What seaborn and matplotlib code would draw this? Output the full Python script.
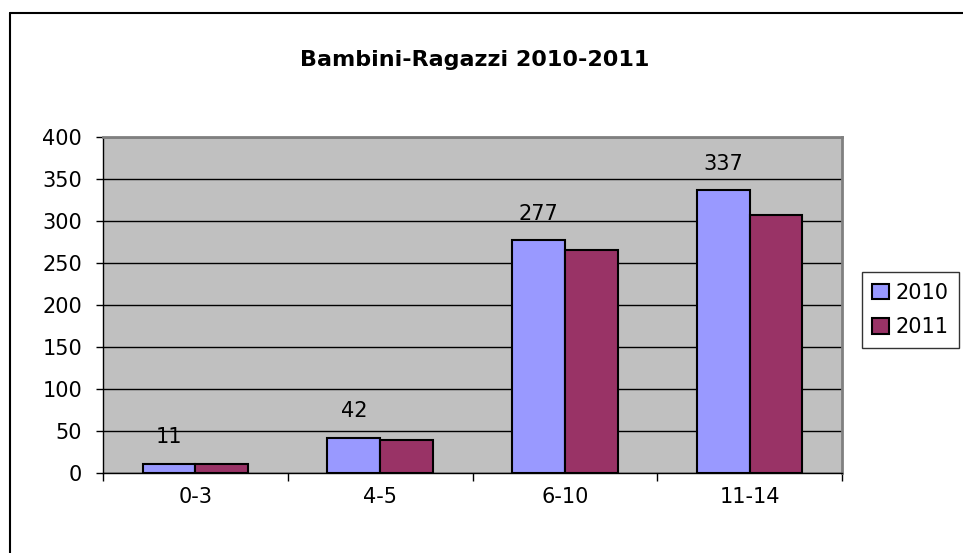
import pandas as pd
import numpy as np
from matplotlib import pyplot as plt
from matplotlib.lines import Line2D
import seaborn as sns

fasce = ['0-3', '4-5', '6-10', '11-14']
anni = ['2010', '2011']
val_2010 = [11, 42, 277, 337]
val_2011 = [11, 39, 265, 307]
colori = ['#9999FF', '#993366']

df = pd.DataFrame({
    'fascia': fasce * 2,
    'anno': [anni[0]] * 4 + [anni[1]] * 4,
    'n': val_2010 + val_2011,
})

sns.set_style("white", {'text.color': 'black', 'xtick.color': 'black', 'ytick.color': 'black'})
plt.rcParams['font.family'] = ['DejaVu Sans']

fig = plt.figure(figsize=(9.63, 5.53), dpi=100)
ax = fig.add_axes([103/963, 1-473/553, (842-103)/963, (473-137)/553])
ax.set_facecolor('#C0C0C0')

sns.barplot(data=df, x='fascia', y='n', hue='anno', palette=colori,
            width=0.57, edgecolor='black', linewidth=1.5, saturation=1,
            ax=ax, zorder=3)

# etichette solo per il 2010
for bar, v in zip(ax.containers[0], val_2010):
    ax.annotate(str(v), (bar.get_x() + bar.get_width()/2, bar.get_height()),
                xytext=(0, 19), textcoords='offset points', color='black',
                ha='center', va='center', fontsize=15, zorder=4)

ax.set_ylim(0, 400)
ax.set_xlim(-0.5, 3.5)
ax.set_yticks(np.arange(0, 401, 50))
ax.yaxis.grid(True, color='black', linewidth=1)
ax.set_axisbelow(True)
ax.tick_params(axis='y', which='major', length=5, width=1, color='black',
               labelcolor='black', labelsize=15, left=True, pad=10)
ax.set_xticks(range(4))
ax.set_xticklabels(fasce)
ax.set_xticks(np.arange(-0.5, 3.6, 1), minor=True)
ax.tick_params(axis='x', which='major', length=0, labelsize=15, labelcolor='black', pad=10)
ax.tick_params(axis='x', which='minor', length=6, width=1, color='black', bottom=True)
ax.set_xlabel('')
ax.set_ylabel('')
for s in ['top', 'right']:
    ax.spines[s].set_color('#808080')
    ax.spines[s].set_linewidth(2)
ax.spines['left'].set_color('black')
ax.spines['bottom'].set_color('black')
ax.spines['left'].set_linewidth(1)
ax.spines['bottom'].set_linewidth(1)

fig.text(475/963, 1-60/553, 'Bambini-Ragazzi 2010-2011', ha='center', va='center',
         fontsize=16, fontweight='bold', color='black')

leg = ax.legend(loc='center left', bbox_to_anchor=(862/963, 1-310/553),
                bbox_transform=fig.transFigure, frameon=True, fancybox=False,
                fontsize=15, handlelength=0.8, handleheight=0.8, handletextpad=0.3,
                borderpad=0.5, labelspacing=0.7, borderaxespad=0)
leg.get_frame().set_edgecolor('black')
leg.get_frame().set_linewidth(1)
for t in leg.get_texts():
    t.set_color('black')

# cornice del grafico
fig.add_artist(Line2D([10/963, 10/963], [0, 1-13/553], color='black', lw=1.5,
                      transform=fig.transFigure))
fig.add_artist(Line2D([10/963, 1], [1-13/553, 1-13/553], color='black', lw=1.5,
                      transform=fig.transFigure))

fig.savefig('out.png', dpi=100)
